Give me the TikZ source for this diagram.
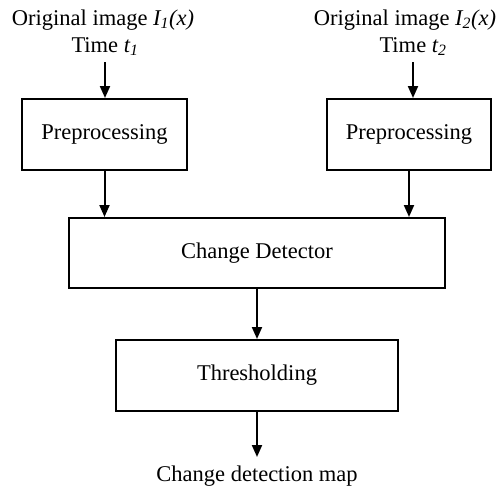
\documentclass[tikz,border=0pt]{standalone}
\usepackage{fontspec}
\setmainfont{Liberation Serif}
\usetikzlibrary{arrows.meta}
\begin{document}
\begin{tikzpicture}[x=1pt, y=-1pt,
  every node/.style={font=\fontsize{22.5}{27}\selectfont, inner sep=0pt},
  block/.style={draw, line width=2pt, rectangle},
  arr/.style={line width=2pt, -{Triangle[length=12pt, width=10pt]}}]
  \useasboundingbox (0,0) rectangle (504,488);

  % inputs
  \node[anchor=base] (img1) at (103,25) {Original image \textit{I\textsubscript{1}(x)}};
  \node[anchor=base] (time1) at (105,52) {Time \textit{t\textsubscript{1}}};
  \node[anchor=base] (img2) at (405,25) {Original image \textit{I\textsubscript{2}(x)}};
  \node[anchor=base] (time2) at (413,52) {Time \textit{t\textsubscript{2}}};

  % processing blocks
  \node[block, minimum width=165pt, minimum height=71pt] (pre1) at (104.5,134.5) {Preprocessing};
  \node[block, minimum width=164pt, minimum height=71pt] (pre2) at (409,134.5) {Preprocessing};
  \node[block, minimum width=376pt, minimum height=70pt] (cd) at (257,253) {Change Detector};
  \node[block, minimum width=282pt, minimum height=71pt] (th) at (257,375.5) {Thresholding};

  % output
  \node[anchor=base] (out) at (257,481) {Change detection map};

  % connectors
  \draw[arr] ([yshift=-10pt]time1.base) -- (time1.base |- pre1.north);
  \draw[arr] ([yshift=-10pt]time2.base) -- (time2.base |- pre2.north);
  \draw[arr] (pre1.south) -- (pre1.south |- cd.north);
  \draw[arr] (pre2.south) -- (pre2.south |- cd.north);
  \draw[arr] (cd.south) -- (th.north);
  \draw[arr] (th.south) -- ([yshift=24pt]out.base);
\end{tikzpicture}
\end{document}
